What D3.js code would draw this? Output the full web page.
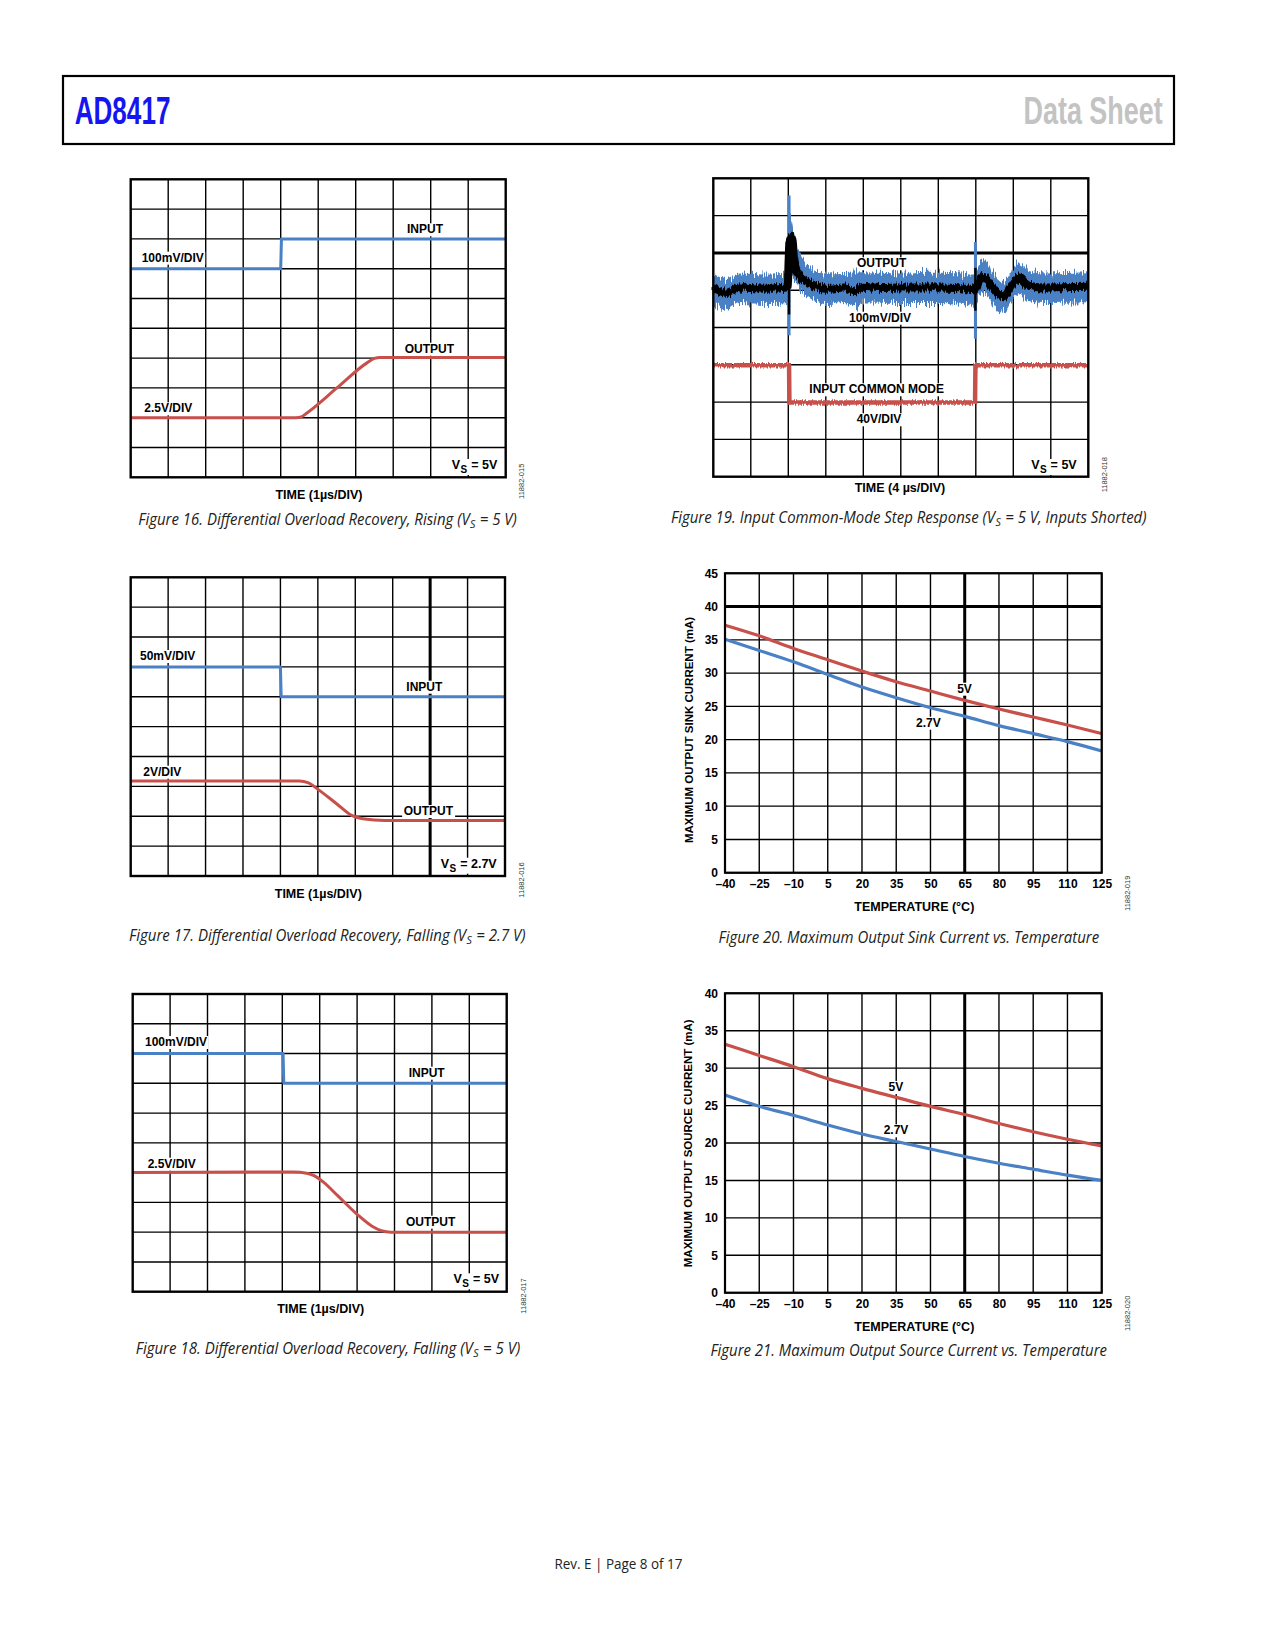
<!DOCTYPE html>
<html><head><meta charset="utf-8">
<script src="https://cdn.jsdelivr.net/npm/d3@7"></script>
<style>
body{margin:0;background:#fff;}
svg{display:block;}
</style></head>
<body>
<svg id="page" width="1275" height="1650" xmlns="http://www.w3.org/2000/svg"></svg>
<script>
// ================= DATA =================
// Scope traces: x = time in divisions (0-10), y = divisions from bottom of screen
const fig16Input  = [[0,7],[4.0,7],[4.02,8],[10,8]];
const fig16Output = [[0,2],[4.4,2],[4.55,2.03],[4.7,2.16],[5.5,3.0],[6.3,3.84],[6.5,3.99],[6.65,4.02],[10,4.02]];

const fig17Input  = [[0,7],[4.0,7],[4.02,6],[10,6]];
const fig17Output = [[0,3.18],[4.5,3.18],[4.75,3.12],[4.95,2.95],[5.5,2.42],[5.9,2.03],[6.2,1.92],[6.8,1.86],[10,1.86]];

const fig18Input  = [[0,8],[4.02,8],[4.04,7],[10,7]];
const fig18Output = [[0,4.0],[4.3,4.02],[4.65,3.98],[4.85,3.9],[5.1,3.68],[5.5,3.2],[6.0,2.6],[6.4,2.2],[6.65,2.05],[6.9,2.0],[10,2.0]];

// Figure 19 (8 vertical divisions)
const fig19Center = [[0,5.09],[0.35,4.93],[0.7,5.07],[1.5,5.04],[1.98,5.08],[2.03,6.3],[2.09,6.43],[2.18,5.67],[2.31,5.36],[2.49,5.23],[2.66,5.14],[3.0,5.04],[3.5,5.07],[3.75,4.98],[4.0,5.09],[4.5,5.06],[5.0,5.07],[6.0,5.07],[6.6,5.05],[6.95,5.0],[7.1,5.27],[7.2,5.36],[7.4,5.13],[7.6,4.89],[7.75,4.84],[7.95,5.11],[8.15,5.34],[8.4,5.13],[8.8,5.07],[10,5.09]];
const fig19Upper = [[0,5.45],[0.35,5.3],[0.7,5.45],[1.5,5.42],[1.98,5.45],[2.05,7.0],[2.1,6.75],[2.18,6.3],[2.31,6.0],[2.49,5.72],[2.66,5.55],[3.0,5.45],[3.5,5.46],[4.0,5.48],[5.0,5.45],[6.0,5.47],[6.6,5.45],[6.95,5.42],[7.1,5.75],[7.2,5.8],[7.4,5.55],[7.6,5.3],[7.75,5.22],[7.95,5.5],[8.15,5.72],[8.4,5.52],[8.8,5.45],[10,5.48]];
const fig19Lower = [[0,4.68],[0.35,4.5],[0.7,4.66],[1.5,4.63],[1.98,4.66],[2.05,5.5],[2.1,5.35],[2.18,5.27],[2.31,4.98],[2.49,4.84],[2.66,4.74],[3.0,4.63],[3.5,4.66],[3.75,4.55],[4.0,4.67],[5.0,4.66],[6.0,4.66],[6.6,4.64],[6.95,4.58],[7.1,4.85],[7.2,4.93],[7.4,4.72],[7.6,4.45],[7.75,4.42],[7.95,4.7],[8.15,4.92],[8.4,4.72],[8.8,4.66],[10,4.68]];
const fig19BlueSpikes  = [[2.02,3.79,7.54],[6.99,3.70,6.29]];
const fig19BlackSpikes = [[2.02,4.35,6.45],[6.99,4.45,5.6]];
const fig19Common = [[0,2.99],[2.02,2.99],[2.03,1.99],[6.98,1.99],[6.99,2.99],[10,2.99]];

// Temperature charts
const tempTicks = [-40,-25,-10,5,20,35,50,65,80,95,110,125];
const sink5V   = [37.2,35.6,33.7,32.0,30.3,28.7,27.3,25.9,24.6,23.4,22.2,20.9];
const sink27V  = [35.1,33.4,31.7,29.8,27.9,26.3,24.8,23.5,22.1,20.9,19.7,18.3];
const source5V = [33.2,31.7,30.2,28.6,27.3,26.1,24.9,23.8,22.6,21.5,20.5,19.6];
const source27V= [26.4,24.9,23.7,22.4,21.2,20.2,19.2,18.2,17.3,16.5,15.7,15.0];
const sinkYTicks   = [0,5,10,15,20,25,30,35,40,45];
const sourceYTicks = [0,5,10,15,20,25,30,35,40];

// ================= STYLE =================
const BLUE = '#4a80c4', RED = '#c8504b';
const LF = '"Liberation Sans", Arial, Helvetica, sans-serif';
const CF = '"Open Sans", "Noto Sans", sans-serif';

const svg = d3.select('#page');
const defs = svg.append('defs');

function noiseFilter(id, freq, scale, seed) {
  const f = defs.append('filter').attr('id', id)
    .attr('filterUnits','userSpaceOnUse').attr('x',690).attr('y',160).attr('width',420).attr('height',340)
    .attr('color-interpolation-filters','sRGB');
  f.append('feTurbulence').attr('type','fractalNoise').attr('baseFrequency',freq)
    .attr('numOctaves',2).attr('seed',seed).attr('result','t');
  f.append('feColorMatrix').attr('in','t').attr('type','matrix')
    .attr('values','0 0 0 0 0.5  0 1 0 0 0  0 0 0 0 0  0 0 0 0 1').attr('result','m');
  f.append('feDisplacementMap').attr('in','SourceGraphic').attr('in2','m')
    .attr('scale',scale).attr('xChannelSelector','R').attr('yChannelSelector','G');
}
noiseFilter('nBlue', '0.9 0.04', 18, 4);
noiseFilter('nBlack', '0.8 0.05', 9, 9);
noiseFilter('nRed', '0.9 0.05', 5, 2);

function addBg(parent, t) {
  const b = t.node().getBBox();
  parent.insert('rect', () => t.node()).attr('x',b.x-1.5).attr('y',b.y+1).attr('width',b.width+3).attr('height',b.height-1).attr('fill','#fff');
}
function label(parent, txt, x, y, anchor, opt={}) {
  const t = parent.append('text').attr('x',x).attr('y',y).attr('text-anchor',anchor)
    .attr('font-family', opt.family || LF).attr('font-weight', opt.weight || 'bold')
    .attr('font-size', opt.size || 12).attr('fill', opt.fill || '#000').text(txt);
  if (opt.rotate) t.attr('transform',`rotate(${opt.rotate},${x},${y})`);
  if (opt.bg) addBg(parent, t);
  return t;
}
function vsLabel(parent, x, y, val) {
  const t = parent.append('text').attr('x',x).attr('y',y).attr('text-anchor','end')
    .attr('font-family',LF).attr('font-weight','bold').attr('font-size',12.5);
  t.append('tspan').text('V');
  t.append('tspan').attr('dx',0.5).attr('dy',4).attr('font-size',10).text('S');
  t.append('tspan').attr('dx',0.5).attr('dy',-4).text(' = ' + val);
  addBg(parent, t);
}
function figId(x, y, txt) {
  label(svg, txt, x, y, 'middle', {weight:'normal', size:7.5, fill:'#333', rotate:-90});
}
// caption: natural layout, then squeezed horizontally to the measured width
function caption(cx, y, width, pre, sub, post) {
  const g = svg.append('g');
  const t = g.append('text').attr('x',0).attr('y',0)
    .attr('font-family',CF).attr('font-style','italic').attr('font-size',15.5).attr('fill','#222');
  t.append('tspan').text(pre);
  if (sub) {
    t.append('tspan').attr('dx',0.5).attr('dy',3).attr('font-size',11).text(sub);
    t.append('tspan').attr('dx',0.5).attr('dy',-3).text(post);
  }
  const w = t.node().getBBox().width;
  const k = width / w;
  g.attr('transform', `translate(${cx - width/2},${y}) scale(${k},1)`);
}

function scope(cfg) {
  const g = svg.append('g');
  const x = d3.scaleLinear().domain([0,10]).range([cfg.x0,cfg.x1]);
  const y = d3.scaleLinear().domain([0,cfg.rows]).range([cfg.y1,cfg.y0]);
  g.selectAll('line.v').data(d3.range(1,10)).join('line').attr('class','v')
    .attr('x1',d=>x(d)).attr('x2',d=>x(d)).attr('y1',cfg.y0).attr('y2',cfg.y1)
    .attr('stroke','#000').attr('stroke-width',d=>d===cfg.thickV?3:1.4);
  g.selectAll('line.h').data(d3.range(1,cfg.rows)).join('line').attr('class','h')
    .attr('y1',d=>y(d)).attr('y2',d=>y(d)).attr('x1',cfg.x0).attr('x2',cfg.x1)
    .attr('stroke','#000').attr('stroke-width',d=>d===cfg.thickH?3:1.4);
  return {g,x,y};
}
function border(g, cfg) {
  g.append('rect').attr('x',cfg.x0).attr('y',cfg.y0).attr('width',cfg.x1-cfg.x0).attr('height',cfg.y1-cfg.y0)
    .attr('fill','none').attr('stroke','#000').attr('stroke-width',2.4);
}
function trace(s, data, color, curve, w=3) {
  const line = d3.line().x(d=>s.x(d[0])).y(d=>s.y(d[1])).curve(curve);
  return s.g.append('path').attr('d',line(data)).attr('fill','none').attr('stroke',color)
    .attr('stroke-width',w).attr('stroke-linejoin','round');
}

// ================= HEADER / FOOTER =================
svg.append('rect').attr('x',63).attr('y',76).attr('width',1111).attr('height',68)
  .attr('fill','none').attr('stroke','#000').attr('stroke-width',2.2);
svg.append('text').attr('x',74.7).attr('y',124).attr('font-family',LF).attr('font-weight','bold')
  .attr('font-size',38).attr('fill','#1515f0').attr('textLength',95.7).attr('lengthAdjust','spacingAndGlyphs').text('AD8417');
svg.append('text').attr('x',1023.6).attr('y',124).attr('font-family',LF).attr('font-weight','bold')
  .attr('font-size',38).attr('fill','#c3c3c3').attr('textLength',139).attr('lengthAdjust','spacingAndGlyphs').text('Data Sheet');
svg.append('text').attr('x',618.5).attr('y',1569).attr('text-anchor','middle').attr('font-family',CF)
  .attr('font-size',14).attr('fill','#222').attr('textLength',128).attr('lengthAdjust','spacingAndGlyphs').text('Rev. E | Page 8 of 17');

// ================= FIGURE 16 =================
{
  const cfg = {x0:130.7,x1:505.7,y0:179.3,y1:477.3,rows:10};
  const s = scope(cfg);
  label(s.g,'INPUT',425,233.3,'middle',{bg:true});
  label(s.g,'100mV/DIV',141.7,261.7,'start',{bg:true});
  label(s.g,'OUTPUT',429.3,352.7,'middle',{bg:true});
  label(s.g,'2.5V/DIV',144.3,412.3,'start',{bg:true});
  trace(s, fig16Input, BLUE, d3.curveLinear);
  trace(s, fig16Output, RED, d3.curveMonotoneX);
  vsLabel(s.g,497.3,469,'5V');
  border(s.g,cfg);
  label(svg,'TIME (1µs/DIV)',319,499.3,'middle',{size:12.5});
  figId(524.3,481.3,'11882-015');
  caption(327.8,525,379,'Figure 16. Differential Overload Recovery, Rising (V','S',' = 5 V)');
}
// ================= FIGURE 17 =================
{
  const cfg = {x0:130.7,x1:505,y0:577.3,y1:876,rows:10,thickV:8};
  const s = scope(cfg);
  label(s.g,'50mV/DIV',140,660,'start',{bg:true});
  label(s.g,'INPUT',424.3,690.7,'middle',{bg:true});
  label(s.g,'2V/DIV',143.3,775.7,'start',{bg:true});
  label(s.g,'OUTPUT',428.3,815,'middle',{bg:true});
  trace(s, fig17Input, BLUE, d3.curveLinear);
  trace(s, fig17Output, RED, d3.curveMonotoneX);
  vsLabel(s.g,496.7,867.7,'2.7V');
  border(s.g,cfg);
  label(svg,'TIME (1µs/DIV)',318.3,898.3,'middle',{size:12.5});
  figId(524,880,'11882-016');
  caption(327.5,941,397,'Figure 17. Differential Overload Recovery, Falling (V','S',' = 2.7 V)');
}
// ================= FIGURE 18 =================
{
  const cfg = {x0:132.7,x1:506.7,y0:994,y1:1291.7,rows:10};
  const s = scope(cfg);
  label(s.g,'100mV/DIV',145,1046,'start',{bg:true});
  label(s.g,'INPUT',426.7,1076.7,'middle',{bg:true});
  label(s.g,'2.5V/DIV',147.7,1167.7,'start',{bg:true});
  label(s.g,'OUTPUT',430.7,1225.7,'middle',{bg:true});
  trace(s, fig18Input, BLUE, d3.curveLinear);
  trace(s, fig18Output, RED, d3.curveMonotoneX);
  vsLabel(s.g,499,1283.3,'5V');
  border(s.g,cfg);
  label(svg,'TIME (1µs/DIV)',320.7,1313.3,'middle',{size:12.5});
  figId(526,1296,'11882-017');
  caption(328.2,1354,385,'Figure 18. Differential Overload Recovery, Falling (V','S',' = 5 V)');
}
// ================= FIGURE 19 =================
{
  const cfg = {x0:713.3,x1:1088.3,y0:178.3,y1:476.7,rows:8,thickH:6};
  const s = scope(cfg);
  label(s.g,'OUTPUT',881.7,267.3,'middle',{bg:true});
  label(s.g,'100mV/DIV',880,321.7,'middle',{bg:true});
  label(s.g,'INPUT COMMON MODE',876.7,393.3,'middle',{bg:true});
  label(s.g,'40V/DIV',879,423.3,'middle',{bg:true});
  const edge = d3.line().x(d=>s.x(d[0])).y(d=>s.y(d[1])).curve(d3.curveMonotoneX);
  const upPath = edge(fig19Upper);
  const lowPath = edge(fig19Lower.slice().reverse());
  s.g.append('path').attr('d', upPath + 'L' + lowPath.slice(1) + 'Z').attr('fill',BLUE).attr('filter','url(#nBlue)');
  s.g.selectAll('line.bs').data(fig19BlueSpikes).join('line').attr('class','bs')
    .attr('x1',d=>s.x(d[0])).attr('x2',d=>s.x(d[0])).attr('y1',d=>s.y(d[1])).attr('y2',d=>s.y(d[2]))
    .attr('stroke',BLUE).attr('stroke-width',3);
  trace(s, fig19Center, '#000', d3.curveMonotoneX, 8).attr('filter','url(#nBlack)');
  s.g.selectAll('line.ks').data(fig19BlackSpikes).join('line').attr('class','ks')
    .attr('x1',d=>s.x(d[0])).attr('x2',d=>s.x(d[0])).attr('y1',d=>s.y(d[1])).attr('y2',d=>s.y(d[2]))
    .attr('stroke','#000').attr('stroke-width',2.5);
  trace(s, fig19Common, RED, d3.curveLinear, 4.5).attr('stroke-linejoin','miter').attr('filter','url(#nRed)');
  vsLabel(s.g,1076.7,469,'5V');
  border(s.g,cfg);
  label(svg,'TIME (4 µs/DIV)',900,491.7,'middle',{size:12.5});
  figId(1106.7,474.7,'11882-018');
  caption(909,523,476,'Figure 19. Input Common-Mode Step Response (V','S',' = 5 V, Inputs Shorted)');
}

// ================= TEMPERATURE CHARTS =================
function tempChart(cfg) {
  const g = svg.append('g');
  const x = d3.scaleLinear().domain([-40,125]).range([725,1101.7]);
  const y = d3.scaleLinear().domain([0,cfg.ymax]).range([cfg.y1,cfg.y0]);
  g.selectAll('line.v').data(tempTicks).join('line').attr('class','v')
    .attr('x1',d=>x(d)).attr('x2',d=>x(d)).attr('y1',cfg.y0).attr('y2',cfg.y1)
    .attr('stroke','#000').attr('stroke-width',d=>d===65?3:1.4);
  g.selectAll('line.h').data(cfg.yTicks).join('line').attr('class','h')
    .attr('y1',d=>y(d)).attr('y2',d=>y(d)).attr('x1',725).attr('x2',1101.7)
    .attr('stroke','#000').attr('stroke-width',d=>d===cfg.thickY?3:1.4);
  label(g,'5V',cfg.l5[0],cfg.l5[1],'middle',{bg:true});
  label(g,'2.7V',cfg.l27[0],cfg.l27[1],'middle',{bg:true});
  const line = d3.line().x((d,i)=>x(tempTicks[i])).y(d=>y(d)).curve(d3.curveMonotoneX);
  g.append('path').attr('d',line(cfg.s5)).attr('fill','none').attr('stroke',RED).attr('stroke-width',3.2);
  g.append('path').attr('d',line(cfg.s27)).attr('fill','none').attr('stroke',BLUE).attr('stroke-width',3.2);
  g.append('rect').attr('x',725).attr('y',cfg.y0).attr('width',1101.7-725).attr('height',cfg.y1-cfg.y0)
    .attr('fill','none').attr('stroke','#000').attr('stroke-width',2.2);
  const ya = g.append('g').attr('transform','translate(725,0)')
    .call(d3.axisLeft(y).tickValues(cfg.yTicks).tickSize(0).tickPadding(7).tickFormat(d=>String(d)));
  ya.select('.domain').remove();
  ya.selectAll('text').attr('font-family',LF).attr('font-weight','bold').attr('font-size',12).attr('fill','#000');
  const xa = g.append('g').attr('transform',`translate(0,${cfg.y1})`)
    .call(d3.axisBottom(x).tickValues(tempTicks).tickSize(0).tickFormat(d=>d<0?'\u2013'+Math.abs(d):String(d)));
  xa.select('.domain').remove();
  xa.selectAll('text').attr('y',15).attr('dy',0).attr('font-family',LF).attr('font-weight','bold').attr('font-size',12).attr('fill','#000');
  label(svg,'TEMPERATURE (°C)',914.3,cfg.y1+38.3,'middle',{size:12.5});
  label(svg,cfg.ytitle,692.5,cfg.ytc,'middle',{size:11.5,rotate:-90});
}
tempChart({y0:573.3,y1:872.7,ymax:45,yTicks:sinkYTicks,thickY:40,s5:sink5V,s27:sink27V,
  l5:[964.5,692.7],l27:[928.3,726.7],ytitle:'MAXIMUM OUTPUT SINK CURRENT (mA)',ytc:730});
figId(1130,893.3,'11882-019');
caption(909,942.5,381,'Figure 20. Maximum Output Sink Current vs. Temperature');

tempChart({y0:993.3,y1:1292.7,ymax:40,yTicks:sourceYTicks,thickY:null,s5:source5V,s27:source27V,
  l5:[895.8,1091],l27:[896,1134.3],ytitle:'MAXIMUM OUTPUT SOURCE CURRENT (mA)',ytc:1143.3});
figId(1130,1313.3,'11882-020');
caption(909,1356,397,'Figure 21. Maximum Output Source Current vs. Temperature');
</script>
</body></html>
